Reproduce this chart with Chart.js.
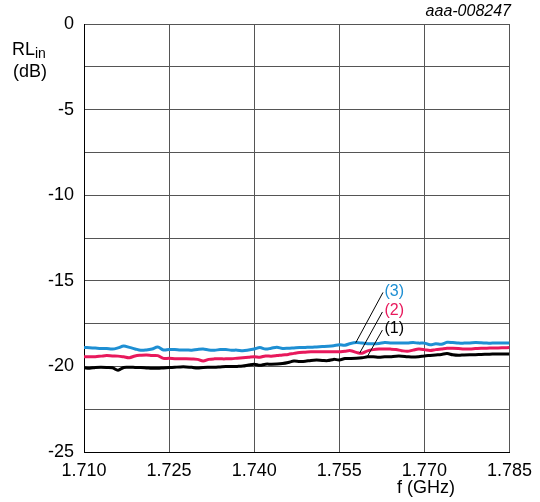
<!DOCTYPE html>
<html>
<head>
<meta charset="utf-8">
<script src="https://cdn.jsdelivr.net/npm/chart.js@4.4.0/dist/chart.umd.min.js"></script>
<style>
  body { margin: 0; background: #fff; }
  canvas { display: block; }
</style>
</head>
<body>
<canvas id="rlChart" width="540" height="502"></canvas>
<script>
// frequency points (GHz)
const freqGHz = [
  1.710, 1.711, 1.712, 1.713, 1.714, 1.715, 1.716, 1.717, 1.718, 1.719,
  1.720, 1.721, 1.722, 1.723, 1.724, 1.725, 1.726, 1.727, 1.728, 1.729,
  1.730, 1.731, 1.732, 1.733, 1.734, 1.735, 1.736, 1.737, 1.738, 1.739,
  1.740, 1.741, 1.742, 1.743, 1.744, 1.745, 1.746, 1.747, 1.748, 1.749,
  1.750, 1.751, 1.752, 1.753, 1.754, 1.755, 1.756, 1.757, 1.758, 1.759,
  1.760, 1.761, 1.762, 1.763, 1.764, 1.765, 1.766, 1.767, 1.768, 1.769,
  1.770, 1.771, 1.772, 1.773, 1.774, 1.775, 1.776, 1.777, 1.778, 1.779,
  1.780, 1.781, 1.782, 1.783, 1.784, 1.785
];

// curve (1) black
const rl1 = [
  -20.08, -20.11, -20.06, -20.05, -20.06, -20.08, -20.22, -20.06, -20.05, -20.06,
  -20.07, -20.09, -20.11, -20.11, -20.09, -20.07, -20.05, -20.03, -20.03, -20.05,
  -20.10, -20.06, -20.05, -20.05, -20.03, -20.01, -20.01, -20.00, -19.98, -19.92,
  -19.87, -19.94, -19.87, -19.87, -19.86, -19.83, -19.77, -19.69, -19.71, -19.70,
  -19.65, -19.63, -19.65, -19.66, -19.59, -19.62, -19.54, -19.54, -19.53, -19.50,
  -19.44, -19.44, -19.46, -19.44, -19.43, -19.40, -19.40, -19.43, -19.45, -19.43,
  -19.39, -19.36, -19.33, -19.30, -19.25, -19.32, -19.35, -19.33, -19.32, -19.32,
  -19.30, -19.29, -19.28, -19.27, -19.27, -19.27
];

// curve (2) pink
const rl2 = [
  -19.43, -19.44, -19.43, -19.40, -19.37, -19.39, -19.40, -19.44, -19.49, -19.39,
  -19.35, -19.33, -19.36, -19.37, -19.53, -19.53, -19.55, -19.56, -19.56, -19.57,
  -19.59, -19.69, -19.59, -19.56, -19.56, -19.56, -19.55, -19.52, -19.49, -19.46,
  -19.43, -19.46, -19.39, -19.40, -19.37, -19.33, -19.30, -19.24, -19.19, -19.17,
  -19.15, -19.15, -19.15, -19.14, -19.14, -19.15, -19.11, -19.08, -19.18, -19.23,
  -19.09, -19.02, -18.99, -18.99, -18.99, -19.01, -19.08, -19.12, -19.05, -18.99,
  -19.02, -19.07, -19.02, -18.98, -18.94, -18.94, -18.96, -18.99, -18.98, -18.96,
  -18.94, -18.94, -18.92, -18.92, -18.91, -18.90
];

// curve (3) blue
const rl3 = [
  -18.89, -18.91, -18.93, -18.95, -18.96, -18.99, -18.92, -18.81, -18.89, -18.98,
  -19.06, -19.04, -18.98, -18.87, -19.04, -19.01, -19.01, -19.04, -19.04, -19.05,
  -19.01, -18.99, -19.04, -19.05, -19.02, -19.02, -19.05, -19.05, -19.08, -19.04,
  -18.98, -18.90, -18.99, -18.94, -18.88, -18.95, -18.94, -18.92, -18.90, -18.89,
  -18.88, -18.86, -18.84, -18.82, -18.79, -18.74, -18.76, -18.66, -18.61, -18.64,
  -18.67, -18.68, -18.66, -18.61, -18.63, -18.64, -18.63, -18.64, -18.61, -18.64,
  -18.64, -18.74, -18.68, -18.71, -18.59, -18.61, -18.64, -18.64, -18.63, -18.61,
  -18.62, -18.64, -18.64, -18.64, -18.64, -18.64
];

const xTicks = [1.710, 1.725, 1.740, 1.755, 1.770, 1.785];

// curve labels with leader lines (in data units: GHz, dB)
const curveNames = ["(3)", "(2)", "(1)"];
const nameAt = [[1.7647, -15.63], [1.7647, -16.74], [1.7647, -17.82]];
const leaderFrom = [[1.7627, -15.68], [1.7626, -16.82], [1.7626, -17.88]];
const leaderTo = [[1.7579, -18.62], [1.7586, -19.22], [1.7599, -19.45]];

const FONT = '"Liberation Sans", Arial, sans-serif';
const nameColors = ["#1e8fd3", "#e8195c", "#000000"];

const toPoints = (vals) => vals.map((v, i) => ({ x: freqGHz[i], y: v }));

const extras = {
  id: "extras",
  afterDraw(chart) {
    const { ctx, scales } = chart;
    const xs = scales.x, ys = scales.y;
    ctx.save();

    // leader lines
    ctx.strokeStyle = "#000";
    ctx.lineWidth = 1;
    for (let i = 0; i < curveNames.length; i++) {
      ctx.beginPath();
      ctx.moveTo(xs.getPixelForValue(leaderFrom[i][0]), ys.getPixelForValue(leaderFrom[i][1]));
      ctx.lineTo(xs.getPixelForValue(leaderTo[i][0]), ys.getPixelForValue(leaderTo[i][1]));
      ctx.stroke();
    }

    // curve names
    ctx.font = "16px " + FONT;
    ctx.textAlign = "center";
    ctx.textBaseline = "middle";
    for (let i = 0; i < curveNames.length; i++) {
      ctx.fillStyle = nameColors[i];
      ctx.fillText(curveNames[i], xs.getPixelForValue(nameAt[i][0]), ys.getPixelForValue(nameAt[i][1]));
    }

    // y title RL_in (dB)
    ctx.fillStyle = "#000";
    ctx.textAlign = "left";
    ctx.textBaseline = "alphabetic";
    ctx.font = "18px " + FONT;
    ctx.fillText("RL", 12, 55);
    const rlW = ctx.measureText("RL").width;
    ctx.font = "14px " + FONT;
    ctx.fillText("in", 12 + rlW, 58);
    ctx.font = "18px " + FONT;
    ctx.fillText("(dB)", 13, 77);

    // x title under the 1.770 label
    ctx.textAlign = "center";
    ctx.fillText("f (GHz)", xs.getPixelForValue(1.7703), 493);

    // figure code
    ctx.font = "italic 16px " + FONT;
    ctx.textAlign = "right";
    ctx.fillText("aaa-008247", 511, 16);

    ctx.restore();
  }
};

new Chart(document.getElementById("rlChart").getContext("2d"), {
  type: "line",
  data: {
    datasets: [
      {
        label: "(3)",
        data: toPoints(rl3),
        borderColor: "#1e8fd3",
        borderWidth: 3,
        pointRadius: 0,
        tension: 0.35,
        fill: false,
      },
      {
        label: "(2)",
        data: toPoints(rl2),
        borderColor: "#e8195c",
        borderWidth: 3,
        pointRadius: 0,
        tension: 0.35,
        fill: false,
      },
      {
        label: "(1)",
        data: toPoints(rl1),
        borderColor: "#000000",
        borderWidth: 3,
        pointRadius: 0,
        tension: 0.35,
        fill: false,
      },
    ],
  },
  options: {
    responsive: false,
    animation: false,
    layout: { padding: { left: 0, top: 24, right: 29, bottom: 0 } },
    plugins: {
      legend: { display: false },
      tooltip: { enabled: false },
    },
    scales: {
      x: {
        type: "linear",
        min: 1.710,
        max: 1.785,
        afterBuildTicks: (scale) => {
          scale.ticks = xTicks.map((v) => ({ value: v }));
        },
        afterFit: (scale) => { scale.height = 50; },
        grid: { color: "#555", lineWidth: 1, drawTicks: false },
        border: { color: "#000", width: 1 },
        ticks: {
          padding: 8,
          maxRotation: 0,
          autoSkip: false,
          color: "#000",
          font: { family: FONT, size: 18 },
          callback: (v) => Number(v).toFixed(3),
        },
      },
      y: {
        min: -25,
        max: 0,
        afterFit: (scale) => { scale.width = 84; },
        grid: { color: "#555", lineWidth: 1, drawTicks: false },
        border: { color: "#000", width: 1 },
        ticks: {
          stepSize: 2.5,
          padding: 10,
          autoSkip: false,
          color: "#000",
          font: { family: FONT, size: 18 },
          callback: (v) => (v % 5 === 0 ? String(v) : ""),
        },
      },
    },
  },
  plugins: [extras],
});
</script>
</body>
</html>
